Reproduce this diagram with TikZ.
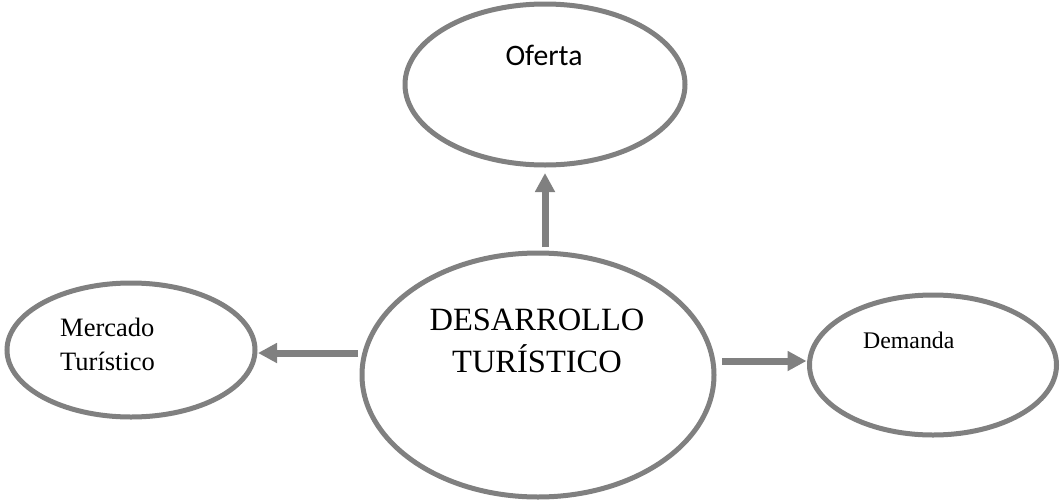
\documentclass[tikz,border=0pt]{standalone}
\usepackage{fontspec}
\setmainfont{Liberation Serif}
\newfontfamily\calibri{Carlito}
\usepackage{tikz}
\usetikzlibrary{shapes.geometric}
\usetikzlibrary{arrows.meta}
\usetikzlibrary{positioning}
\colorlet{trazo}{gray}
\begin{document}
\begin{tikzpicture}[
x=1pt, y=-1pt,
MyEllipses/.style={ellipse,draw=trazo,line width=5pt,inner sep=0pt,outer sep=0pt},
MyArrows/.style={draw=trazo,line width=7pt,-{Triangle[length=19pt,width=19pt]}},
MyTexts/.style={inner sep=0pt,anchor=base}
]
\useasboundingbox (0,0) rectangle (1061,501);

% the four ellipses
\node[MyEllipses,minimum width=280pt,minimum height=161pt] (oferta) at (545,84.5) {};
\node[MyEllipses,minimum width=352pt,minimum height=244pt] (desarrollo) at (538,375) {};
\node[MyEllipses,minimum width=248pt,minimum height=134pt] (mercado) at (131,350) {};
\node[MyEllipses,minimum width=247pt,minimum height=140pt] (demanda) at (933,365) {};

% texts (base is the last line)
\node[MyTexts,font=\calibri\fontsize{29.7}{34}\selectfont] (t-oferta) at (544,65) {Oferta};
\node[MyTexts,align=center,font=\fontsize{32.5}{42}\selectfont] (t-desarrollo) at (537,372)
  {DESARROLLO\\TURÍSTICO};
\node[MyTexts,anchor=base west,align=left,font=\fontsize{26.5}{34}\selectfont] (t-mercado) at (60,370)
  {Mercado\\Turístico};
\node[MyTexts,anchor=base west,font=\fontsize{23.8}{28}\selectfont] (t-demanda) at (863,348) {Demanda};

% arrows
\coordinate (arriba) at (545,247);
\coordinate (izq) at (358,353);
\coordinate (der) at (722,361);
\draw[MyArrows,shorten >=8pt] (arriba) -- (arriba |- oferta.south);
\draw[MyArrows,shorten >=3pt] (izq) -- (izq -| mercado.east);
\draw[MyArrows,shorten >=3pt] (der) -- (der -| demanda.west);

\end{tikzpicture}
\end{document}
